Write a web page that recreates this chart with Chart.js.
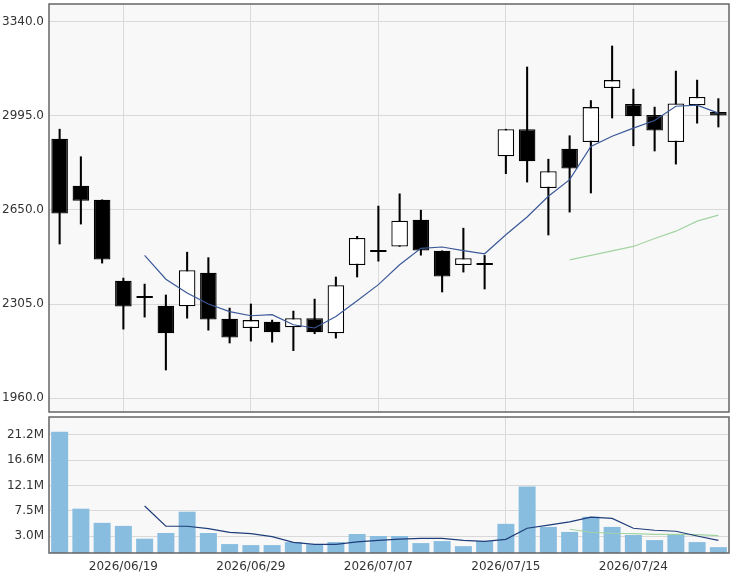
<!DOCTYPE html>
<html>
<head>
<meta charset="utf-8">
<script src="https://cdn.jsdelivr.net/npm/chart.js@4.4.1/dist/chart.umd.min.js"></script>
<style>
    html, body { margin: 0; padding: 0; background: #fff; }
    #wrap { position: relative; width: 730px; height: 573px; }
    #priceChart { position: absolute; left: 0; top: 0; }
    #volumeChart { position: absolute; left: 0; top: 413px; }
</style>
</head>
<body>
<div id="wrap">
    <canvas id="priceChart" width="730" height="416"></canvas>
    <canvas id="volumeChart" width="730" height="160"></canvas>
</div>
<script>
// Dates (trading days)
const dates = [
    '2026/06/16', '2026/06/17', '2026/06/18', '2026/06/19', '2026/06/22', '2026/06/23', '2026/06/24', '2026/06/25',
    '2026/06/26', '2026/06/29', '2026/06/30', '2026/07/01', '2026/07/02', '2026/07/03', '2026/07/06', '2026/07/07',
    '2026/07/08', '2026/07/09', '2026/07/10', '2026/07/13', '2026/07/14', '2026/07/15', '2026/07/16', '2026/07/17',
    '2026/07/21', '2026/07/22', '2026/07/23', '2026/07/24', '2026/07/27', '2026/07/28', '2026/07/29', '2026/07/30'
];

// OHLC
const opens  = [2911, 2739, 2687, 2390, 2332, 2299, 2297, 2420, 2251, 2217, 2240, 2220, 2253, 2198, 2448, 2500,
                2516, 2614, 2500, 2448, 2448, 2847, 2946, 2730, 2874, 2899, 3097, 3038, 2998, 2899, 3034, 3009];
const highs  = [2946, 2845, 2687, 2400, 2378, 2338, 2495, 2475, 2290, 2305, 2246, 2279, 2323, 2404, 2553, 2664,
                2709, 2649, 2500, 2583, 2483, 2946, 3174, 2836, 2922, 3051, 3251, 3093, 3027, 3159, 3126, 3058];
const lows   = [2525, 2598, 2455, 2213, 2257, 2063, 2253, 2209, 2162, 2169, 2165, 2134, 2196, 2180, 2404, 2462,
                2516, 2484, 2349, 2422, 2360, 2783, 2752, 2558, 2642, 2712, 2987, 2885, 2866, 2818, 2968, 2954];
const closes = [2637, 2684, 2468, 2296, 2327, 2198, 2429, 2248, 2182, 2246, 2201, 2253, 2201, 2374, 2547, 2496,
                2610, 2501, 2406, 2473, 2448, 2946, 2828, 2792, 2802, 3027, 3126, 2993, 2941, 3040, 3064, 2996];

// Moving averages
const priceMa5 = [null, null, null, null, 2483, 2396, 2345, 2305, 2277, 2262, 2266, 2229, 2217, 2259, 2317, 2376,
                  2449, 2509, 2514, 2501, 2489, 2559, 2624, 2700, 2761, 2883, 2920, 2950, 2978, 3030, 3034, 3005];
const priceMa25 = [null, null, null, null, null, null, null, null, null, null, null, null, null, null, null, null,
                   null, null, null, null, null, null, null, null, 2467, 2483, 2500, 2516, 2545, 2572, 2609, 2631];

// Volume (shares)
const volumes = [21.74e6, 7.95e6, 5.41e6, 4.86e6, 2.57e6, 3.59e6, 7.41e6, 3.59e6, 1.60e6, 1.42e6, 1.42e6, 1.96e6,
                 1.54e6, 1.96e6, 3.41e6, 3.05e6, 3.05e6, 1.78e6, 2.14e6, 1.23e6, 2.14e6, 5.23e6, 11.94e6, 4.68e6,
                 3.78e6, 6.50e6, 4.68e6, 3.23e6, 2.32e6, 3.41e6, 1.96e6, 1.05e6];
const volumeMa5 = [null, null, null, null, 8.43e6, 4.80e6, 4.80e6, 4.38e6, 3.71e6, 3.47e6, 2.93e6, 1.90e6,
                   1.54e6, 1.54e6, 2.00e6, 2.26e6, 2.50e6, 2.63e6, 2.63e6, 2.26e6, 2.08e6, 2.44e6, 4.44e6, 4.99e6,
                   5.59e6, 6.44e6, 6.20e6, 4.44e6, 4.08e6, 3.90e6, 3.05e6, 2.26e6];
const volumeMa25 = [null, null, null, null, null, null, null, null, null, null, null, null, null, null, null, null,
                    null, null, null, null, null, null, null, null, 4.26e6, 3.72e6, 3.54e6, 3.48e6, 3.35e6, 3.35e6,
                    3.29e6, 3.11e6];

// Axis ticks
const priceTicks = [1960, 2305, 2650, 2995, 3340];
const volumeTicks = [3.0e6, 7.55e6, 12.1e6, 16.65e6, 21.2e6];
const volumeTickLabels = ['3.0M', '7.5M', '12.1M', '16.6M', '21.2M'];
const dateTickIndexes = [3, 9, 15, 21, 27];

const GRID = '#d9d9d9';
const FONT = { family: 'DejaVu Sans', size: 12 };

// fond gris et cadre de la zone de tracé
const paneFrame = {
    id: 'paneFrame',
    beforeDraw(chart) {
        const a = chart.chartArea;
        const ctx = chart.ctx;
        ctx.save();
        ctx.fillStyle = '#f8f8f8';
        ctx.fillRect(a.left, a.top, a.right - a.left, a.bottom - a.top);
        ctx.restore();
    },
    afterDraw(chart) {
        const a = chart.chartArea;
        const ctx = chart.ctx;
        ctx.save();
        ctx.strokeStyle = '#666';
        ctx.lineWidth = 1.5;
        ctx.strokeRect(a.left, a.top, a.right - a.left, a.bottom - a.top);
        ctx.restore();
    }
};

function xGridColor(ctx) {
    return dateTickIndexes.includes(ctx.index) ? GRID : 'rgba(0,0,0,0)';
}

// largeur fixe de l'axe Y, sans marge ajoutée pour les étiquettes
function fixedYWidth(scale) {
    scale.width = 49;
    scale.paddingTop = 0;
    scale.paddingBottom = 0;
}

// Prix : bougies
const bodyColors = closes.map((c, i) => (c < opens[i] ? '#000' : '#fff'));

new Chart(document.getElementById('priceChart'), {
    type: 'bar',
    data: {
        labels: dates,
        datasets: [
            {
                type: 'line',
                data: priceMa5,
                borderColor: '#3b5998',
                borderWidth: 1.2,
                pointRadius: 0,
                tension: 0,
                order: 0
            },
            {
                type: 'line',
                data: priceMa25,
                borderColor: '#a3d3a3',
                borderWidth: 1.2,
                pointRadius: 0,
                tension: 0,
                order: 0
            },
            {
                data: opens.map((o, i) => [o, closes[i]]),
                backgroundColor: bodyColors,
                borderColor: '#000',
                borderWidth: 1.3,
                borderSkipped: false,
                minBarLength: 2,
                grouped: false,
                barPercentage: 0.78,
                categoryPercentage: 1,
                order: 1
            },
            {
                data: lows.map((l, i) => [l, highs[i]]),
                backgroundColor: '#000',
                borderWidth: 0,
                barThickness: 1.4,
                grouped: false,
                order: 2
            }
        ]
    },
    options: {
        responsive: false,
        animation: false,
        layout: { padding: { top: 4, right: 1, bottom: 4, left: 0 } },
        plugins: { legend: { display: false }, tooltip: { enabled: false } },
        scales: {
            x: {
                offset: true,
                afterFit(scale) {
                    scale.height = 0;
                    scale.paddingLeft = 0;
                    scale.paddingRight = 0;
                },
                ticks: { display: false, autoSkip: false },
                grid: { offset: false, drawTicks: false, color: xGridColor },
                border: { display: false }
            },
            y: {
                min: 1909,
                max: 3405,
                afterFit: fixedYWidth,
                afterBuildTicks(scale) {
                    scale.ticks = priceTicks.map(v => ({ value: v }));
                },
                ticks: {
                    padding: 5,
                    color: '#333',
                    font: FONT,
                    callback: v => Number(v).toFixed(1)
                },
                grid: { drawTicks: false, color: GRID },
                border: { display: false }
            }
        }
    },
    plugins: [paneFrame]
});

// Volume
new Chart(document.getElementById('volumeChart'), {
    type: 'bar',
    data: {
        labels: dates,
        datasets: [
            {
                type: 'line',
                data: volumeMa5,
                borderColor: '#1f3d7a',
                borderWidth: 1.2,
                pointRadius: 0,
                tension: 0,
                order: 0
            },
            {
                type: 'line',
                data: volumeMa25,
                borderColor: '#a3d3a3',
                borderWidth: 1.2,
                pointRadius: 0,
                tension: 0,
                order: 0
            },
            {
                data: volumes,
                backgroundColor: '#88bde0',
                borderWidth: 0,
                barPercentage: 0.8,
                categoryPercentage: 1,
                order: 1
            }
        ]
    },
    options: {
        responsive: false,
        animation: false,
        layout: { padding: { top: 4, right: 1, bottom: 0, left: 0 } },
        plugins: { legend: { display: false }, tooltip: { enabled: false } },
        scales: {
            x: {
                offset: true,
                afterFit(scale) {
                    scale.height = 20;
                    scale.paddingLeft = 0;
                    scale.paddingRight = 0;
                },
                ticks: {
                    autoSkip: false,
                    maxRotation: 0,
                    padding: 7,
                    color: '#333',
                    font: FONT,
                    callback: (v, i) => (dateTickIndexes.includes(i) ? dates[i] : null)
                },
                grid: { offset: false, drawTicks: false, color: xGridColor },
                border: { display: false }
            },
            y: {
                min: 0,
                max: 24.4e6,
                afterFit: fixedYWidth,
                afterBuildTicks(scale) {
                    scale.ticks = volumeTicks.map(v => ({ value: v }));
                },
                ticks: {
                    padding: 5,
                    color: '#333',
                    font: FONT,
                    callback: (v, i) => volumeTickLabels[i]
                },
                grid: { drawTicks: false, color: GRID },
                border: { display: false }
            }
        }
    },
    plugins: [paneFrame]
});
</script>
</body>
</html>
